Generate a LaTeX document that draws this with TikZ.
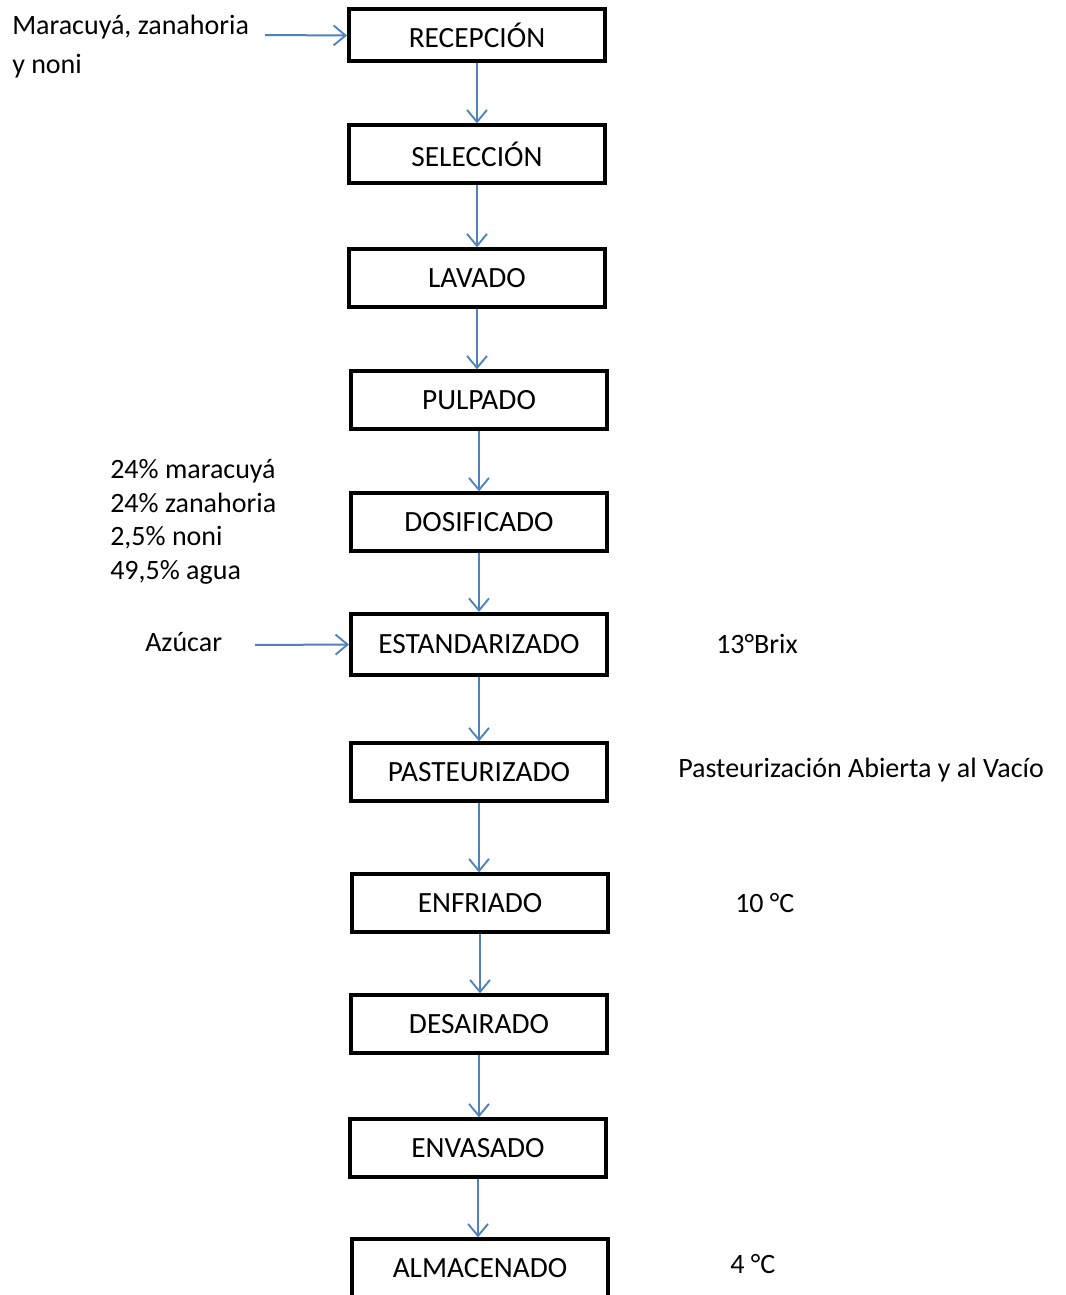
\documentclass[tikz,border=0pt]{standalone}
\usepackage{fontspec}
\setmainfont{Carlito}
\usetikzlibrary{arrows.meta}
\definecolor{flowblue}{RGB}{79,129,189}
\tikzset{
  stepbox/.style={draw=black, line width=3pt, minimum width=192pt, minimum height=43pt,
    inner sep=0pt, font=\fontsize{22}{26}\selectfont},
  flow/.style={draw=flowblue, line width=1.5pt, -{Straight Barb[length=9pt,width=15pt,line width=1.4pt]}},
  note/.style={inner sep=0pt, font=\fontsize{21}{25}\selectfont}
}
\begin{document}
\begin{tikzpicture}[x=0.75pt,y=-0.75pt]
\useasboundingbox (0,0) rectangle (1065,1295);
% process steps
\node[stepbox, minimum height=39pt] (rec) at (477,35.5) {RECEPCIÓN};
\node[stepbox] (sel) at (477,154) {SELECCIÓN};
\node[stepbox] (lav) at (477,278) {LAVADO};
\node[stepbox] (pul) at (479,400) {PULPADO};
\node[stepbox] (dos) at (479,522) {DOSIFICADO};
\node[stepbox, minimum height=46pt] (est) at (479,644.5) {ESTANDARIZADO};
\node[stepbox] (pas) at (479,772) {PASTEURIZADO};
\node[stepbox] (enf) at (480,903) {ENFRIADO};
\node[stepbox] (des) at (479,1024) {DESAIRADO};
\node[stepbox] (env) at (478,1148) {ENVASADO};
\node[stepbox] (alm) at (480,1268) {ALMACENADO};
% main flow
\foreach \a/\b in {rec/sel,sel/lav,lav/pul,pul/dos,dos/est,est/pas,pas/enf,enf/des,des/env,env/alm}
  \draw[flow] (\a.south) -- (\a.south |- \b.north);
% inputs
\node[note, anchor=west] (in1) at (12,27) {Maracuyá, zanahoria};
\node[note, anchor=west] (in2) at (12,66) {y noni};
\coordinate (in1e) at (265,35);
\draw[flow] (in1e) -- (rec.west);
\node[note, anchor=west, align=left, font=\fontsize{21}{25.2}\selectfont] (mix) at (110,522)
  {24\% maracuyá\\24\% zanahoria\\2,5\% noni\\49,5\% agua};
\node[note, anchor=west] (az) at (145,642) {Azúcar};
\coordinate (aze) at (255,645);
\draw[flow] (aze) -- (est.west);
% conditions
\node[note, anchor=west] (brix) at (716,644) {13°Brix};
\node[note, anchor=west] (pcond) at (678,770) {Pasteurización Abierta y al Vacío};
\node[note, anchor=west] (t10) at (735,903) {10 °C};
\node[note, anchor=west] (t4) at (730,1264) {4 °C};
\end{tikzpicture}
\end{document}
